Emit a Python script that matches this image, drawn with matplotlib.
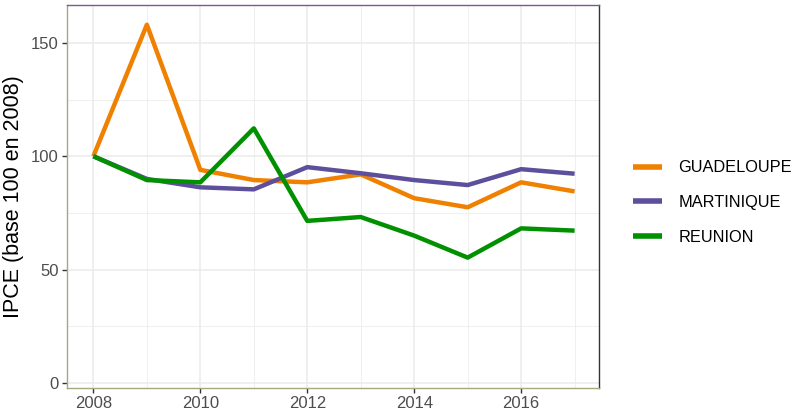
import matplotlib as mpl
import matplotlib.pyplot as plt
from matplotlib.ticker import MultipleLocator

mpl.rcParams['font.family'] = ['Liberation Sans', 'DejaVu Sans']

years = [2008, 2009, 2010, 2011, 2012, 2013, 2014, 2015, 2016, 2017]
guadeloupe = [100, 158, 94, 89.5, 88.5, 92, 81.5, 77.5, 88.5, 84.5]
martinique = [100, 90, 86.3, 85.4, 95.2, 92.5, 89.5, 87.3, 94.3, 92.3]
reunion = [100, 89.5, 88.5, 112.3, 71.5, 73.2, 65, 55.3, 68.2, 67.2]

names = ['GUADELOUPE', 'MARTINIQUE', 'REUNION']
colors = ['#F08000', '#5E4F9C', '#009000']

fig = plt.figure(figsize=(8, 4.15), dpi=100)
ax = fig.add_axes([0.084, 0.065, 0.665, 0.923])

for vals, name, c in zip([guadeloupe, martinique, reunion], names, colors):
    ax.plot(years, vals, color=c, linewidth=3.2, label=name, solid_capstyle='butt')

ax.set_xlim(2007.51, 2017.46)
ax.set_ylim(-2.2, 166.7)
ax.xaxis.set_major_locator(MultipleLocator(2))
ax.xaxis.set_minor_locator(MultipleLocator(1))
ax.yaxis.set_major_locator(MultipleLocator(50))
ax.yaxis.set_minor_locator(MultipleLocator(25))

ax.grid(which='major', color='#EBEBEB', linewidth=1.1)
ax.grid(which='minor', color='#EBEBEB', linewidth=0.55)
ax.set_axisbelow(True)

ax.tick_params(which='major', length=3.5, width=1, color='#333333',
               labelcolor='#4D4D4D', labelsize=12, pad=2.5)
ax.tick_params(which='minor', length=0)

ax.spines['top'].set_color('#7B5A8C')
ax.spines['left'].set_color('#A8A880')
ax.spines['bottom'].set_color('#A8A880')
ax.spines['right'].set_color('#333333')
for s in ax.spines.values():
    s.set_linewidth(1)

ax.set_ylabel('IPCE (base 100 en 2008)', fontsize=15.5, color='black', labelpad=5)

leg = ax.legend(loc='center left', bbox_to_anchor=(1.035, 0.484), frameon=False,
                fontsize=11.8, handlelength=1.8, handletextpad=1.0,
                labelspacing=1.2)
for line in leg.get_lines():
    line.set_linewidth(4)

fig.savefig('out.png', dpi=100)
